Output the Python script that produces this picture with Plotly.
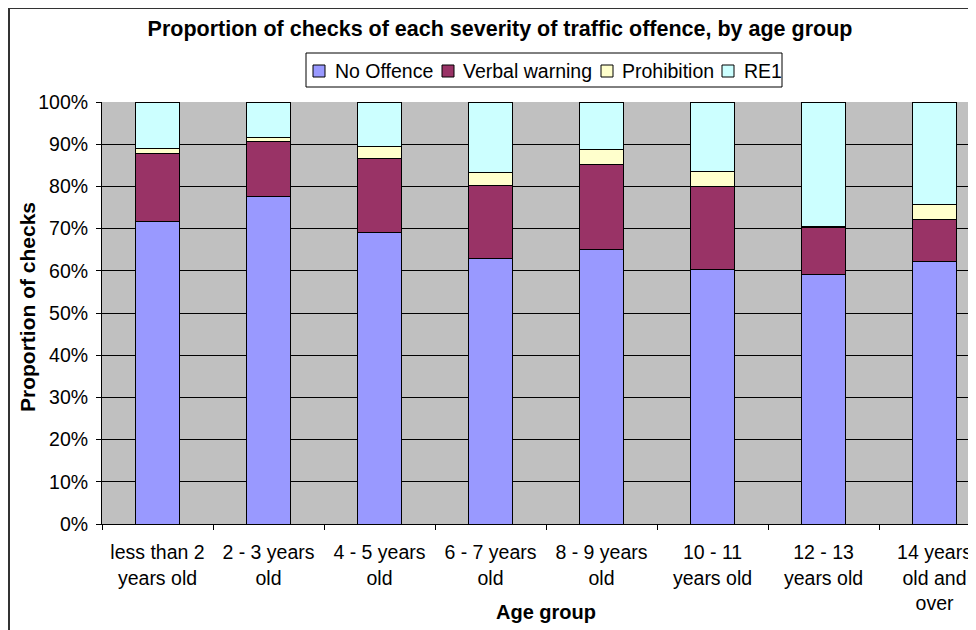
import plotly.graph_objects as go

categories = ["less than 2<br>years old", "2 - 3 years<br>old", "4 - 5 years<br>old",
              "6 - 7 years<br>old", "8 - 9 years<br>old", "10 - 11<br>years old",
              "12 - 13<br>years old", "14 years<br>old and<br>over"]
no_offence = [71.8, 77.7, 69.0, 63.0, 65.0, 60.4, 59.2, 62.1]
verbal_warning = [16.0, 13.0, 17.7, 17.3, 20.1, 19.5, 11.0, 10.0]
prohibition = [1.2, 1.0, 2.7, 2.9, 3.7, 3.6, 0.2, 3.7]
re1 = [11.0, 8.3, 10.6, 16.8, 11.2, 16.5, 29.6, 24.2]

series_names = ["No Offence", "Verbal warning", "Prohibition", "RE1"]
series_values = [no_offence, verbal_warning, prohibition, re1]
series_colors = ["#9999FF", "#993366", "#FFFFCC", "#CCFFFF"]

FONT = "Liberation Sans, Arial, sans-serif"

# page body has an 8px margin; the figure starts at (8, 8) in the window
OFF = 8
W, H = 976 - OFF, 630 - OFF
ML, MT = 102 - OFF, 102 - OFF
MR = 0
MB = H - (524 - OFF)
PW = W - ML - MR
PH = H - MT - MB
CAT_PX = 111.0


def px_x(sx):  # screen x -> paper
    return (sx - OFF - ML) / PW


def px_y(sy):  # screen y -> paper
    return (MT + PH - (sy - OFF)) / PH


fig = go.Figure()
for name, vals, col in zip(series_names, series_values, series_colors):
    fig.add_trace(go.Bar(x=categories, y=vals, name=name, showlegend=False,
                         marker=dict(color=col, line=dict(color="black", width=1))))

fig.update_layout(
    width=W, height=H, barmode="stack", bargap=0.595,
    margin=dict(l=ML, r=MR, t=MT, b=MB, autoexpand=False),
    paper_bgcolor="white", plot_bgcolor="#C0C0C0",
    font=dict(family=FONT, size=19.5, color="black"),
    title=dict(text="<b>Proportion of checks of each severity of traffic offence, by age group</b>",
               x=(500 - OFF) / W, xanchor="center", y=1 - (28 - OFF) / H, yanchor="middle",
               font=dict(size=21.5, family=FONT)),
    showlegend=False,
)
fig.update_xaxes(
    range=[-0.5, -0.5 + PW / CAT_PX], showline=True, linecolor="black", linewidth=1,
    ticks="outside", ticklen=5, tickcolor="black", tickson="boundaries",
    showgrid=False, tickangle=0, tickfont=dict(size=19.5, family=FONT), automargin=False,
    ticklabelstandoff=11,
)
fig.update_yaxes(
    range=[0, 100], dtick=10, ticksuffix="%", showline=True, linecolor="black", linewidth=1,
    ticks="outside", ticklen=5, tickcolor="black", showgrid=True, gridcolor="black", gridwidth=1,
    tickfont=dict(size=19.5, family=FONT), zeroline=False, automargin=False,
    ticklabelstandoff=4,
)

annotations = [
    dict(text="<b>Proportion of checks</b>", xref="paper", yref="paper",
         x=px_x(27), y=px_y(307), textangle=-90, showarrow=False,
         xanchor="center", yanchor="middle", font=dict(size=21, family=FONT)),
    dict(text="<b>Age group</b>", xref="paper", yref="paper",
         x=px_x(546), y=px_y(612), showarrow=False,
         xanchor="center", yanchor="middle", font=dict(size=20, family=FONT)),
]
shapes = [
    # outer chart border (cropped on the right and bottom in the original)
    dict(type="rect", xref="paper", yref="paper",
         x0=px_x(9), x1=px_x(1000), y0=px_y(700), y1=px_y(8),
         line=dict(color="#333333", width=2), fillcolor="rgba(0,0,0,0)", layer="below"),
    # legend box
    dict(type="rect", xref="paper", yref="paper",
         x0=px_x(306), x1=px_x(782), y0=px_y(87), y1=px_y(53),
         line=dict(color="black", width=1), fillcolor="white"),
]
# legend entries
sym_x = [313, 442, 601, 722]
txt_x = [332.5, 460.5, 620, 741.5]
for sx, tx, name, col in zip(sym_x, txt_x, series_names, series_colors):
    shapes.append(dict(type="rect", xref="paper", yref="paper",
                       x0=px_x(sx), x1=px_x(sx + 12), y0=px_y(77), y1=px_y(65),
                       line=dict(color="black", width=1), fillcolor=col))
    annotations.append(dict(text=name, xref="paper", yref="paper",
                            x=px_x(tx), y=px_y(71), showarrow=False,
                            xanchor="left", yanchor="middle",
                            font=dict(size=19.5, family=FONT)))

fig.update_layout(annotations=annotations, shapes=shapes)

fig.write_html("out.html")
